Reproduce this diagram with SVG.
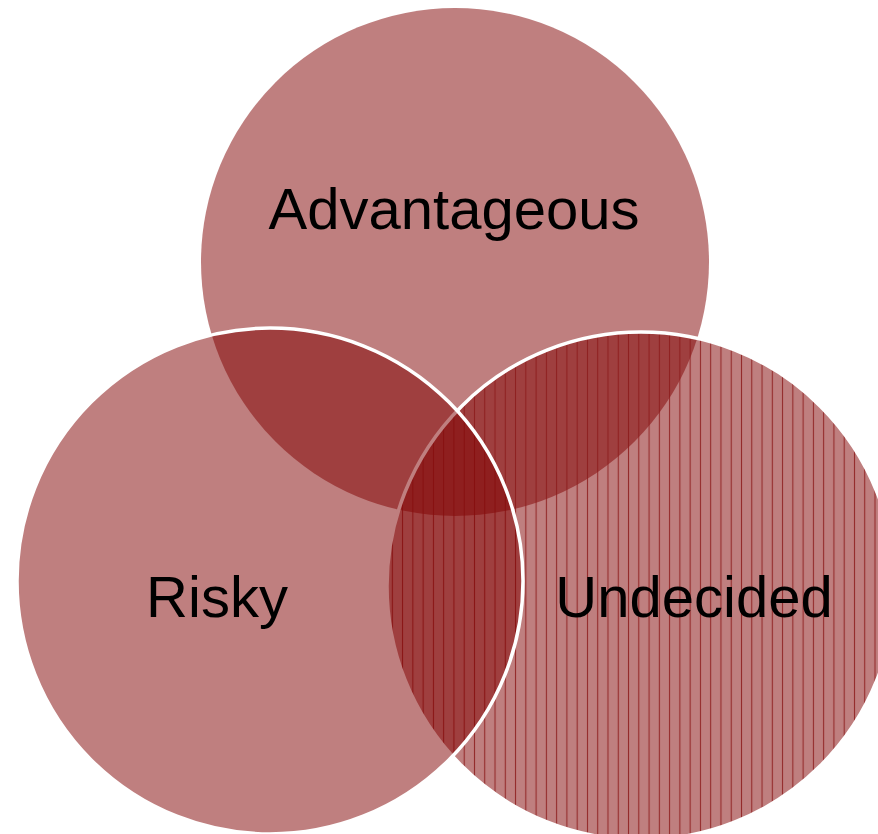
<svg xmlns="http://www.w3.org/2000/svg" width="878" height="834" viewBox="0 0 878 834">
  <defs>
    <pattern id="vstripes" patternUnits="userSpaceOnUse" x="685" y="0" width="10.27" height="20">
      <rect x="0" y="0" width="10.27" height="20" fill="#800000" fill-opacity="0.5"/>
      <rect x="4.6" y="0" width="1.1" height="20" fill="#8b1a1a" fill-opacity="0.85"/>
    </pattern>
  </defs>
  <style>
    .circ { fill: #800000; fill-opacity: 0.5; }
    .outl { stroke: #ffffff; stroke-width: 3.5; }
    .lbl { font-family: "Liberation Sans", Arial, sans-serif; font-size: 58px; fill: #000000; text-anchor: middle; }
  </style>
  <rect x="0" y="0" width="878" height="834" fill="#ffffff"/>
  <g id="advantageous">
    <circle class="circ" cx="455" cy="262" r="254"/>
  </g>
  <g id="undecided">
    <circle cx="641" cy="586" r="254" fill="url(#vstripes)" class="outl"/>
  </g>
  <g id="risky">
    <circle class="circ outl" cx="270" cy="581" r="253"/>
  </g>
  <g id="connectors"></g>
  <g id="labels">
    <text class="lbl" x="454" y="229">Advantageous</text>
    <text class="lbl" x="217" y="617">Risky</text>
    <text class="lbl" x="694" y="617">Undecided</text>
  </g>
</svg>
